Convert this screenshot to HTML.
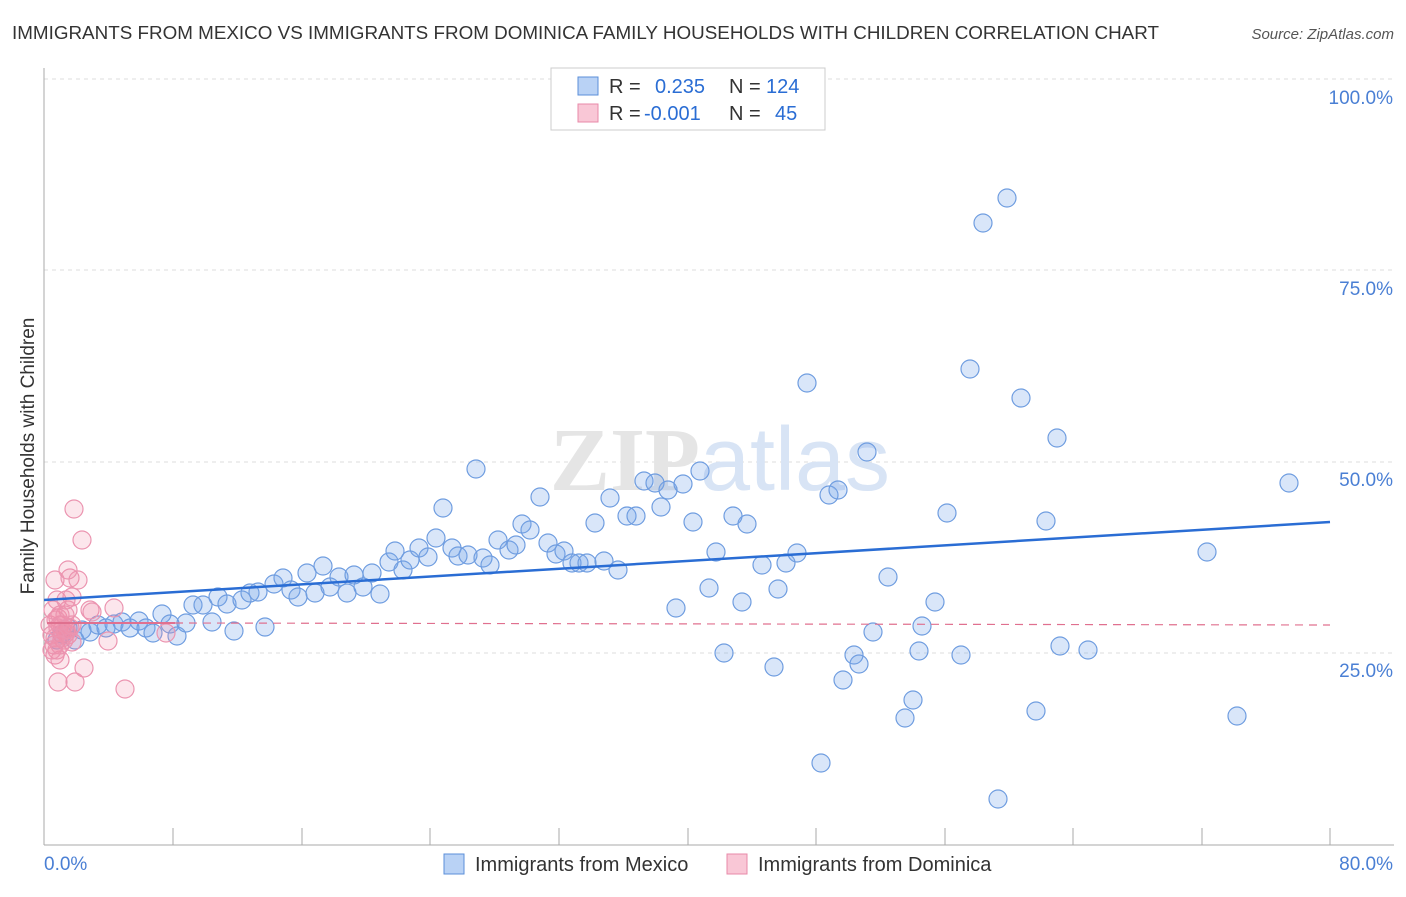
<!DOCTYPE html>
<html><head><meta charset="utf-8"><style>
body{margin:0;background:#fff;font-family:"Liberation Sans",sans-serif;}
</style></head><body>
<svg width="1406" height="892" xmlns="http://www.w3.org/2000/svg" font-family="Liberation Sans, sans-serif">
<text x="12" y="39" font-size="18" fill="#333" textLength="1147" lengthAdjust="spacingAndGlyphs">IMMIGRANTS FROM MEXICO VS IMMIGRANTS FROM DOMINICA FAMILY HOUSEHOLDS WITH CHILDREN CORRELATION CHART</text>
<text x="1394" y="39" font-size="15" fill="#555" text-anchor="end" font-style="italic">Source: ZipAtlas.com</text>
<g stroke="#ddd" stroke-dasharray="4,4" stroke-width="1">
<line x1="44" y1="79" x2="1394" y2="79"/><line x1="44" y1="270" x2="1394" y2="270"/><line x1="44" y1="462" x2="1394" y2="462"/><line x1="44" y1="653" x2="1394" y2="653"/>
</g>
<line x1="44" y1="68" x2="44" y2="845" stroke="#aaa"/>
<line x1="44" y1="845" x2="1394" y2="845" stroke="#aaa"/>
<g stroke="#aaa"><line x1="173" y1="828" x2="173" y2="845"/><line x1="302" y1="828" x2="302" y2="845"/><line x1="430" y1="828" x2="430" y2="845"/><line x1="559" y1="828" x2="559" y2="845"/><line x1="688" y1="828" x2="688" y2="845"/><line x1="816" y1="828" x2="816" y2="845"/><line x1="945" y1="828" x2="945" y2="845"/><line x1="1073" y1="828" x2="1073" y2="845"/><line x1="1202" y1="828" x2="1202" y2="845"/><line x1="1330" y1="828" x2="1330" y2="845"/></g>
<g font-size="19" fill="#4a7fd4" text-anchor="end">
<text x="1393" y="104">100.0%</text><text x="1393" y="295">75.0%</text><text x="1393" y="486">50.0%</text><text x="1393" y="677">25.0%</text></g>
<text x="44" y="870" font-size="19" fill="#4a7fd4">0.0%</text>
<text x="1393" y="870" font-size="19" fill="#4a7fd4" text-anchor="end">80.0%</text>
<text transform="translate(34,456) rotate(-90)" font-size="19" fill="#333" text-anchor="middle">Family Households with Children</text>
<text x="720" y="490" font-size="90" fill="#e5e5e5" text-anchor="middle" font-family="Liberation Serif, serif" font-weight="bold">ZIP<tspan fill="#d8e4f5" font-family="Liberation Sans, sans-serif" font-weight="normal">atlas</tspan></text>
<g fill="rgba(120,165,235,0.28)" stroke="#6f9de0" stroke-width="1.2" id="b"></g>
<g fill="rgba(240,140,170,0.22)" stroke="#eb94b0" stroke-width="1.2" id="p"></g>
<line x1="44" y1="600" x2="1330" y2="522" stroke="#2a6dd4" stroke-width="2.5"/>
<line x1="47" y1="623" x2="175" y2="623" stroke="#e0708f" stroke-width="2"/>
<line x1="175" y1="623" x2="1330" y2="625" stroke="#e0708f" stroke-width="1.2" stroke-dasharray="8,6"/>
<rect x="551" y="68" width="274" height="62" fill="#fff" stroke="#ccc"/>
<rect x="578" y="77" width="20" height="18" fill="#b9d2f5" stroke="#5b8fd9"/>
<rect x="578" y="104" width="20" height="18" fill="#f9c7d6" stroke="#e88aa8"/>
<g font-size="20"><text x="609" y="93" fill="#333">R =</text><text x="655" y="93" fill="#2a6dd4">0.235</text><text x="729" y="93" fill="#333">N =</text><text x="766" y="93" fill="#2a6dd4">124</text>
<text x="609" y="120" fill="#333">R =</text><text x="644" y="120" fill="#2a6dd4">-0.001</text><text x="729" y="120" fill="#333">N =</text><text x="775" y="120" fill="#2a6dd4">45</text></g>
<rect x="444" y="854" width="20" height="20" fill="#b9d2f5" stroke="#5b8fd9"/>
<text x="475" y="871" font-size="20" fill="#333">Immigrants from Mexico</text>
<rect x="727" y="854" width="20" height="20" fill="#f9c7d6" stroke="#e88aa8"/>
<text x="758" y="871" font-size="20" fill="#333">Immigrants from Dominica</text>
</svg>
<script>
var B=[[57,640],[62,634],[68,628],[75,640],[82,630],[90,632],[98,625],[106,628],[114,624],[122,622],[130,628],[139,621],[146,628],[153,633],[162,614],[170,624],[177,636],[186,623],[193,605],[203,605],[212,622],[218,597],[227,604],[234,631],[242,600],[250,593],[258,592],[265,627],[274,584],[283,578],[291,590],[298,597],[307,573],[315,593],[323,566],[330,587],[339,577],[347,593],[354,575],[363,587],[372,573],[380,594],[389,562],[395,551],[403,570],[410,560],[419,548],[428,557],[436,538],[443,508],[452,548],[458,556],[468,555],[476,469],[483,558],[490,565],[498,540],[509,550],[516,545],[522,524],[530,530],[540,497],[548,543],[556,554],[564,551],[572,563],[579,563],[587,563],[595,523],[604,561],[610,498],[618,570],[627,516],[636,516],[644,481],[655,483],[661,507],[668,490],[676,608],[683,484],[693,522],[700,471],[709,588],[716,552],[724,653],[733,516],[742,602],[747,524],[762,565],[774,667],[778,589],[786,563],[797,553],[807,383],[821,763],[829,495],[838,490],[843,680],[854,655],[859,664],[867,452],[873,632],[888,577],[905,718],[913,700],[919,651],[922,626],[935,602],[947,513],[961,655],[970,369],[983,223],[998,799],[1007,198],[1021,398],[1036,711],[1046,521],[1057,438],[1060,646],[1088,650],[1207,552],[1237,716],[1289,483]];
var P=[[55,580],[57,600],[58,618],[60,625],[62,630],[64,640],[55,655],[57,650],[68,610],[70,578],[72,597],[74,509],[78,580],[82,540],[84,668],[75,682],[58,682],[60,660],[90,610],[92,612],[108,641],[114,608],[125,689],[166,633],[66,633],[50,625],[52,635],[54,645],[56,620],[60,615],[63,625],[65,615],[68,635],[70,628],[72,642],[58,628],[62,638],[66,630],[53,610],[55,638],[60,645],[68,570],[66,600],[72,625],[52,650]];
function add(id,a){var g=document.getElementById(id);a.forEach(function(p){var c=document.createElementNS("http://www.w3.org/2000/svg","circle");c.setAttribute("cx",p[0]);c.setAttribute("cy",p[1]);c.setAttribute("r",9);g.appendChild(c);});}
add("b",B);add("p",P);
</script>
</body></html>
